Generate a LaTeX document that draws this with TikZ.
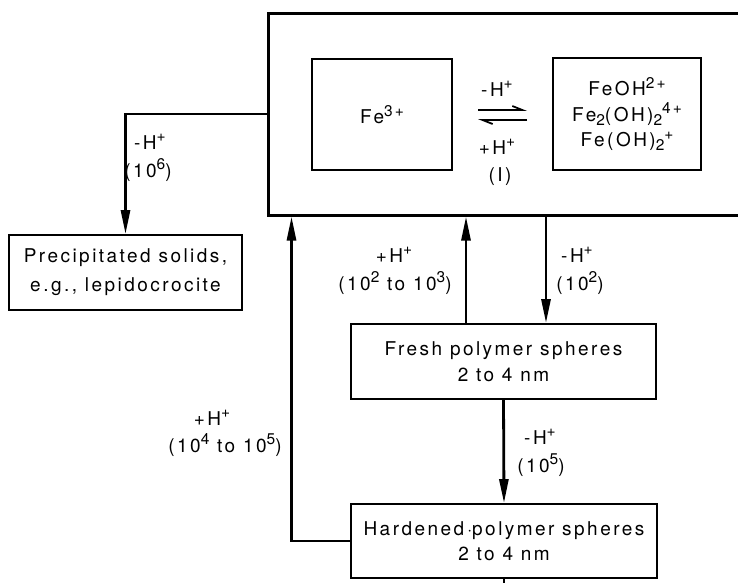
\documentclass[tikz,border=0pt]{standalone}
\usepackage{fontspec}
\setmainfont{TeX Gyre Heros}[LetterSpace=13]
\usetikzlibrary{arrows.meta,calc}
% raised and lowered small figures for charges and counts
\newcommand{\sps}[1]{\raisebox{0.75ex}{\fontsize{15.5}{15.5}\selectfont #1}}
\newcommand{\sbs}[1]{\raisebox{-0.4ex}{\fontsize{15.5}{15.5}\selectfont #1}}
\begin{document}
\begin{tikzpicture}[x=1pt,y=-1pt,
  font=\fontsize{19}{28}\selectfont,
  box/.style={draw, line width=1.8pt, inner sep=0pt, align=center},
  outer/.style={draw, line width=3pt, inner sep=0pt},
  conn/.style={line width=2.8pt, -{Triangle[length=24pt,width=9pt]}},
  plain/.style={line width=2.8pt},
  harp/.style={line width=1.8pt, -{Straight Barb[left,length=10pt,width=8pt]}},
  lbl/.style={inner sep=0pt, align=center}]
\useasboundingbox (0,0) rectangle (738,582);

% outer box holding the monomeric species
\node[outer, minimum width=490pt, minimum height=202pt] (big) at (513,114) {};
\node[box, minimum width=140pt, minimum height=111pt] (fe3) at (382,114.5) {Fe\sps{3+}};
\node[box, minimum width=148pt, minimum height=112pt, font=\fontsize{19}{25.5}\selectfont] (ions) at (627,114)
  {FeOH\sps{2+}\\Fe\sbs{2}(OH)\sbs{2}\sps{4+}\\Fe(OH)\sbs{2}\sps{+}};

% hydrolysis equilibrium (I)
\coordinate (hA) at (478,110);
\coordinate (hB) at (527,110);
\coordinate (hC) at (527,120);
\coordinate (hD) at (478,120);
\draw[harp] (hA) -- (hB);
\draw[harp] (hC) -- (hD);
\node[lbl] (eqm) at (497,89) {-H\sps{+}};
\node[lbl] (eqp) at (497,147) {+H\sps{+}};
\node[lbl] (eqn) at (500,177) {(I)};

% product boxes
\node[box, minimum width=233pt, minimum height=75pt, font=\fontsize{19}{29}\selectfont] (precip) at (125.5,272.5)
  {Precipitated solids,\\e.g., lepidocrocite};
\node[box, minimum width=305pt, minimum height=75pt, font=\fontsize{19}{26}\selectfont] (fresh) at (503.5,361.5)
  {Fresh polymer spheres\\2 to 4 nm};
\node[box, minimum width=306pt, minimum height=74pt, font=\fontsize{19}{25}\selectfont] (hard) at (504,541)
  {Hardened\,$\cdot$polymer spheres\\2 to 4 nm};

% connectors
\draw[conn] (big.west) -| (precip.north);
\draw[conn] (hard.west) -| ($(big.south west)+(25,0)$);
\draw[conn] ([xshift=-37.5pt]fresh.north) -- ([xshift=-37.5pt]fresh.north |- big.south);
\draw[conn] ([xshift=42.5pt]fresh.north |- big.south) -- ([xshift=42.5pt]fresh.north);
\draw[conn] (fresh.south) -- (hard.north);
\coordinate (tail) at (504,600);
\draw[plain] (hard.south) -- (tail);

% rate labels
\node[lbl] (l1a) at (150,142) {-H\sps{+}};
\node[lbl] (l1b) at (148,170) {(10\sps{6})};
\node[lbl] (l2a) at (394,255) {+H\sps{+}};
\node[lbl] (l2b) at (395,283) {(10\sps{2} to 10\sps{3})};
\node[lbl] (l3a) at (577,255) {-H\sps{+}};
\node[lbl] (l3b) at (580,283) {(10\sps{2})};
\node[lbl] (l4a) at (212,418) {+H\sps{+}};
\node[lbl] (l4b) at (225,445) {(10\sps{4} to 10\sps{5})};
\node[lbl] (l5a) at (540,437) {-H\sps{+}};
\node[lbl] (l5b) at (541,465) {(10\sps{5})};
\end{tikzpicture}
\end{document}
